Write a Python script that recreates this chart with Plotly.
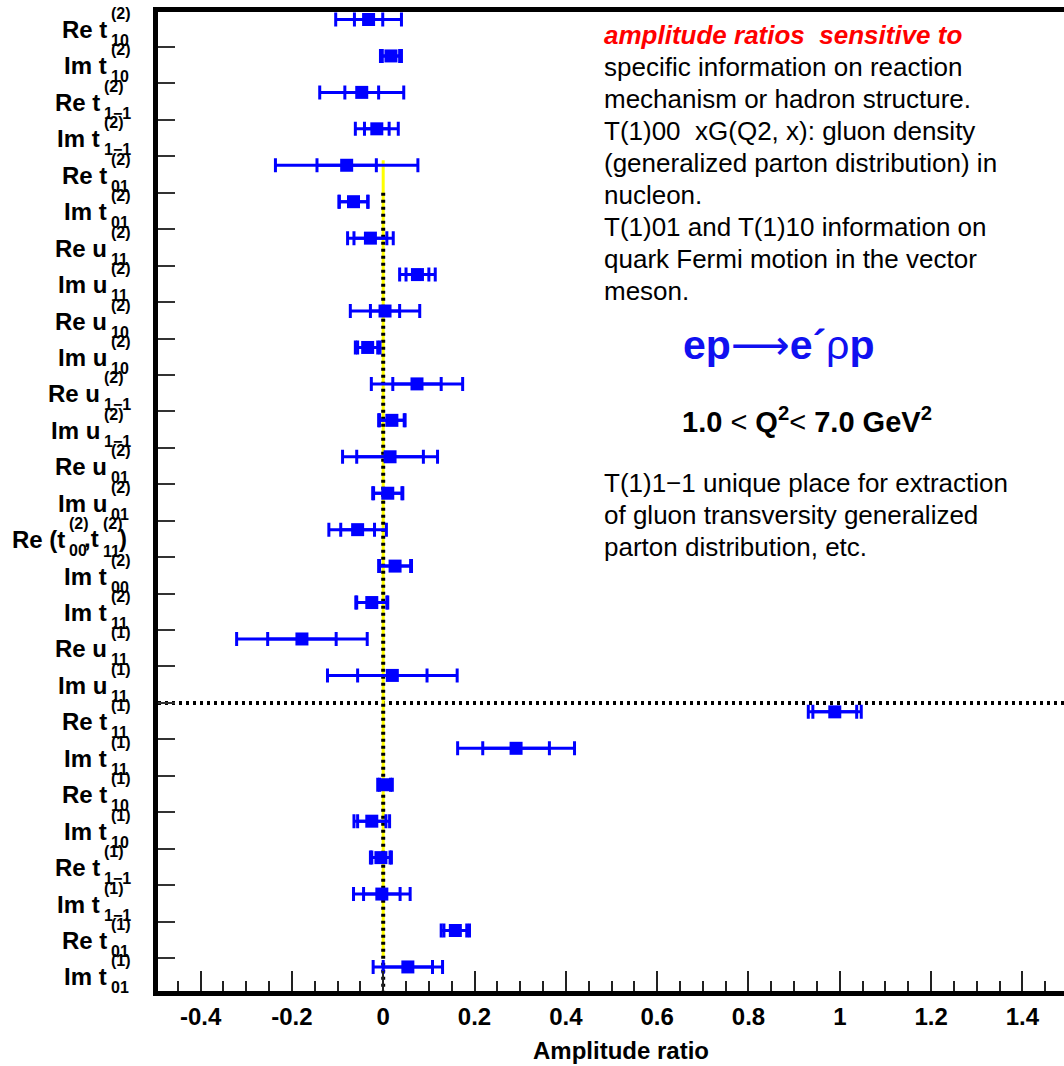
import plotly.graph_objects as go

# ---------------- data ----------------
label_main = ["Re t", "Im t", "Re t", "Im t", "Re t", "Im t", "Re u", "Im u", "Re u", "Im u",
              "Re u", "Im u", "Re u", "Im u", "Re (t", "Im t", "Im t", "Re u", "Im u", "Re t",
              "Im t", "Re t", "Im t", "Re t", "Im t", "Re t", "Im t"]
label_sup = ["(2)"] * 17 + ["(1)"] * 10
label_sub = ["10", "10", "1\u22121", "1\u22121", "01", "01", "11", "11", "10", "10",
             "1\u22121", "1\u22121", "01", "01", "00", "00", "11", "11", "11", "11",
             "11", "10", "10", "1\u22121", "1\u22121", "01", "01"]
rows = list(range(1, 28))

values = [-0.032, 0.017, -0.047, -0.014, -0.080, -0.065, -0.028, 0.075, 0.004, -0.034,
          0.074, 0.019, 0.015, 0.010, -0.056, 0.026, -0.025, -0.178, 0.020, 0.989,
          0.291, 0.004, -0.025, -0.005, -0.003, 0.158, 0.054]
stat_err = [0.031, 0.019, 0.037, 0.027, 0.065, 0.031, 0.036, 0.025, 0.032, 0.022,
            0.053, 0.027, 0.073, 0.031, 0.037, 0.034, 0.033, 0.075, 0.076, 0.048,
            0.073, 0.012, 0.031, 0.020, 0.040, 0.025, 0.054]
total_err = [0.072, 0.023, 0.092, 0.047, 0.156, 0.032, 0.050, 0.039, 0.076, 0.027,
             0.100, 0.029, 0.104, 0.033, 0.063, 0.036, 0.035, 0.143, 0.142, 0.058,
             0.128, 0.016, 0.039, 0.023, 0.062, 0.031, 0.076]

x_tick_values = [-0.4, -0.2, 0, 0.2, 0.4, 0.6, 0.8, 1.0, 1.2, 1.4]
x_tick_text = ["-0.4", "-0.2", "0", "0.2", "0.4", "0.6", "0.8", "1", "1.2", "1.4"]

# ---------------- geometry ----------------
W, H = 1064, 1066
PL, PR, PT, PB = 158, 1064, 12, 991
X0_PX, X_SCALE = 383.2, 456.6
ROW1_PX, ROW_STEP = 19.5, 36.44
x_range = [(PL - X0_PX) / X_SCALE, (PR - X0_PX) / X_SCALE]
y_range = [1 + (PB - ROW1_PX) / ROW_STEP, 1 + (PT - ROW1_PX) / ROW_STEP]


def px_x(px):
    return (px - PL) / (PR - PL)


def px_y(py):
    return (PB - py) / (PB - PT)


FONT = "Liberation Sans, Arial, sans-serif"
BLUE = "#0000ff"

fig = go.Figure()
fig.add_trace(go.Scatter(
    x=values, y=rows, mode="markers",
    marker=dict(size=1, color="rgba(0,0,0,0)"),
    error_x=dict(type="data", array=total_err, color=BLUE, thickness=3, width=7),
    hoverinfo="skip", showlegend=False))
fig.add_trace(go.Scatter(
    x=values, y=rows, mode="markers",
    marker=dict(symbol="square", size=13, color=BLUE),
    error_x=dict(type="data", array=stat_err, color=BLUE, thickness=3, width=7),
    showlegend=False))

shapes = [
    dict(type="line", xref="x", yref="y", x0=0, x1=0, y0=4.86, y1=26.75,
         line=dict(color="#ffff00", width=3), layer="below"),
    dict(type="line", xref="x", yref="y", x0=0, x1=0, y0=5.755, y1=y_range[0],
         line=dict(color="black", width=4, dash="3px,4px"), layer="below"),
    dict(type="line", xref="paper", yref="y", x0=0, x1=1, y0=19.755, y1=19.755,
         line=dict(color="black", width=4, dash="3px,4px"), layer="below"),
]

# ---------------- y labels ----------------
CW = {"(": 0.333, ")": 0.333, "\u2212": 0.584, ",": 0.278, "t": 0.333}
for d in "0123456789":
    CW[d] = 0.556


def tw(s, size):
    return sum(CW.get(c, 0.556) for c in s) * size


MAIN_SIZE, SCR_SIZE = 24, 16
RIGHT = 129
annotations = []


def add_label(text, xpx, y, yshift, size, anchor):
    annotations.append(dict(text=text, xref="paper", yref="y", x=px_x(xpx), y=y,
                            xanchor=anchor, yanchor="middle", yshift=yshift,
                            showarrow=False,
                            font=dict(family=FONT, size=size, color="black", weight="bold")))


for i, k in enumerate(rows):
    if k == 15:
        close_w = tw(")", MAIN_SIZE)
        add_label(")", RIGHT, k, -9, MAIN_SIZE, "right")
        s2_left = RIGHT - close_w - max(tw("(2)", SCR_SIZE), tw("11", SCR_SIZE))
        add_label("(2)", s2_left, k, 6, SCR_SIZE, "left")
        add_label("11", s2_left, k, -22, SCR_SIZE, "left")
        add_label(",t", s2_left, k, -9, MAIN_SIZE, "right")
        right = s2_left - tw(",t", MAIN_SIZE)
    else:
        right = RIGHT
    sl = right - max(tw(label_sup[i], SCR_SIZE), tw(label_sub[i], SCR_SIZE))
    add_label(label_main[i], sl, k, -10, MAIN_SIZE, "right")
    add_label(label_sup[i], sl, k, 6, SCR_SIZE, "left")
    add_label(label_sub[i], sl, k, -21, SCR_SIZE, "left")

# ---------------- right-hand text ----------------
text_lines = [
    "specific information on reaction",
    "mechanism or hadron structure.",
    "T(1)00  xG(Q2, x): gluon density",
    "(generalized parton distribution) in",
    "nucleon.",
    "T(1)01 and T(1)10 information on",
    "quark Fermi motion in the vector",
    "meson.",
]
annotations.append(dict(text="amplitude ratios  sensitive to", xref="paper", yref="paper",
                        x=px_x(602), y=px_y(35), xanchor="left", yanchor="middle",
                        showarrow=False,
                        font=dict(family=FONT, size=26, color="#ff0000", weight="bold",
                                  style="italic")))
for j, t in enumerate(text_lines):
    annotations.append(dict(text=t, xref="paper", yref="paper", x=px_x(602),
                            y=px_y(67.5 + 31.9 * j), xanchor="left", yanchor="middle",
                            showarrow=False, font=dict(family=FONT, size=26, color="black")))
for j, t in enumerate(["T(1)1\u22121 unique place for extraction",
                       "of gluon transversity generalized",
                       "parton distribution, etc."]):
    annotations.append(dict(text=t, xref="paper", yref="paper", x=px_x(602),
                            y=px_y(483 + 32 * j), xanchor="left", yanchor="middle",
                            showarrow=False, font=dict(family=FONT, size=26, color="black")))

annotations.append(dict(
    text="<b>ep</b><span style=\"font-family:'DejaVu Sans'\">\u27f6</span><b>e\u00b4</b>\u03c1<b>p</b>",
    xref="paper", yref="paper", x=px_x(681), y=px_y(345), xanchor="left",
    yanchor="middle", showarrow=False,
    font=dict(family=FONT, size=41, color="#1010f0")))
annotations.append(dict(text="<b>1.0 </b>&lt;<b> Q<sup>2</sup></b>&lt;<b> 7.0 GeV<sup>2</sup></b>",
                        xref="paper", yref="paper", x=px_x(680), y=px_y(420),
                        xanchor="left", yanchor="middle", showarrow=False,
                        font=dict(family=FONT, size=29, color="black")))

annotations.append(dict(text="Amplitude ratio", xref="paper", yref="paper",
                        x=px_x(620.5), y=px_y(1050), xanchor="center", yanchor="middle",
                        showarrow=False,
                        font=dict(family=FONT, size=24, color="black", weight="bold")))

fig.update_layout(
    width=W, height=H,
    margin=dict(l=PL, r=W - PR, t=PT, b=H - PB, pad=0),
    paper_bgcolor="white", plot_bgcolor="white",
    shapes=shapes, annotations=annotations,
    xaxis=dict(range=x_range, showline=True, linewidth=5, linecolor="black", mirror=True,
               ticks="inside", ticklen=20, tickwidth=2, tickcolor="#222",
               tickmode="array", tickvals=x_tick_values, ticktext=x_tick_text,
               tickfont=dict(family=FONT, size=24, color="black", weight="bold"),
               minor=dict(tickmode="linear", tick0=0, dtick=0.05, ticks="inside",
                          ticklen=10, tickwidth=2, tickcolor="#222"),
               showgrid=False, zeroline=False),
    yaxis=dict(range=y_range, showline=True, linewidth=5, linecolor="black", mirror=False,
               ticks="inside", ticklen=17, tickwidth=2, tickcolor="#333",
               tickmode="array", tickvals=[k + 0.755 for k in rows[:-1]],
               showticklabels=False, showgrid=False, zeroline=False),
)

fig.write_html("out.html")
